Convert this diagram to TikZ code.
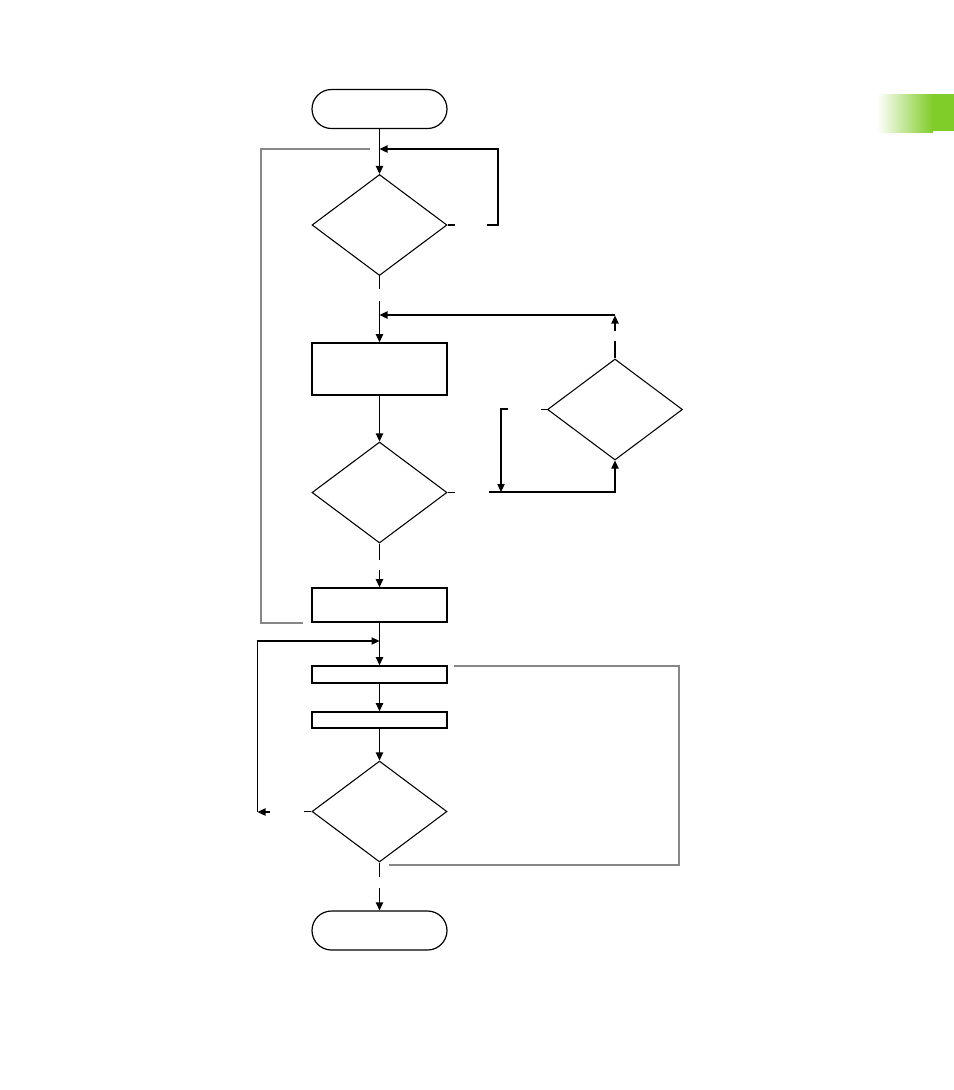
\documentclass[tikz,border=0pt]{standalone}
\usetikzlibrary{arrows.meta,shapes.geometric,shapes.misc}
\definecolor{lgreen}{RGB}{128,204,40}
\definecolor{gline}{RGB}{135,135,135}
\begin{document}
\begin{tikzpicture}[x=0.75pt,y=-0.75pt,
  line width=0.8pt,
  arr/.style={-{Triangle[length=6pt,width=5.5pt]}},
  term/.style={rounded rectangle,draw,line width=0.9pt,minimum width=101.25pt,minimum height=29.25pt,inner sep=0pt},
  dec/.style={diamond,draw,line width=0.8pt,minimum width=101.25pt,minimum height=75.75pt,inner sep=0pt},
  proc/.style={rectangle,draw,line width=1.2pt,minimum width=101.25pt,inner sep=0pt},
  grayline/.style={draw=gline,line width=2.2pt}]
\useasboundingbox (0,0) rectangle (954,1090);
% green tab
\shade[left color=white,right color=lgreen] (877,94) rectangle (933,132);
\fill[lgreen] (932.5,94) rectangle (954,131);
% nodes
\node[term] (start) at (379.5,109) {};
\node[dec] (d1) at (379.5,225) {};
\node[proc,minimum height=39pt] (r1) at (379.5,369) {};
\node[dec] (d2) at (379.5,492.5) {};
\node[dec] (d3) at (615,409.5) {};
\node[proc,minimum height=25.5pt] (r2) at (379.5,605) {};
\node[proc,minimum height=12.75pt] (r3) at (379.5,674.5) {};
\node[proc,minimum height=12pt] (r4) at (379.5,720) {};
\node[dec] (d4) at (379.5,811.5) {};
\node[term] (end) at (379.5,930.5) {};
% coordinates
\coordinate (j1) at (379.5,149);
\coordinate (j2) at (379.5,315);
\coordinate (j3) at (379.5,641);
\coordinate (d1a) at (487,225);
\coordinate (d1b) at (498,225);
\coordinate (d1c) at (498,149);
\coordinate (d1s) at (379.5,301);
\coordinate (d3t) at (615,331);
\coordinate (d3u) at (615,315.5);
\coordinate (d3v) at (615,315);
\coordinate (d2a) at (489,492);
\coordinate (d2b) at (615,492);
\coordinate (d3a) at (508,409);
\coordinate (d3b) at (501,409);
\coordinate (d3c) at (501,492);
\coordinate (d2s) at (379.5,570);
\coordinate (d4a) at (270,812);
\coordinate (d4b) at (257.5,812);
\coordinate (d4c) at (257.5,641);
\coordinate (d4s) at (379.5,888);
% main flow
\draw[arr] (start.south) -- (d1.north);
\draw (d1.east) -- ++(7.5,0);
\draw[arr] (d1a) -- (d1b) -- (d1c) -- (j1);
\draw (d1.south) -- ++(0,13);
\draw[arr] (d1s) -- (r1.north);
\draw (d3.north) -- ++(0,-17);
\draw[arr] (d3t) -- (d3u);
\draw[arr] (d3v) -- (j2);
\draw[arr] (r1.south) -- (d2.north);
\draw (d2.east) -- ++(7.5,0);
\draw[arr] (d2a) -- (d2b) -- (d3.south);
\draw (d3.west) -- ++(-6,0);
\draw[arr] (d3a) -- (d3b) -- (d3c);
\draw (d2.south) -- ++(0,16);
\draw[arr] (d2s) -- (r2.north);
\draw[arr] (r2.south) -- (r3.north);
\draw[arr] (r3.south) -- (r4.north);
\draw[arr] (r4.south) -- (d4.north);
\draw (d4.west) -- ++(-7,0);
\draw[arr] (d4a) -- (d4b);
\draw[arr] (d4b) -- (d4c) -- (j3);
\draw (d4.south) -- ++(0,14);
\draw[arr] (d4s) -- (end.north);
% gray loops
\draw[grayline] (370,149) -- (261,149) -- (261,623) -- (303,623);
\draw[grayline] (454,666) -- (679,666) -- (679,865) -- (389,865);
\end{tikzpicture}
\end{document}
